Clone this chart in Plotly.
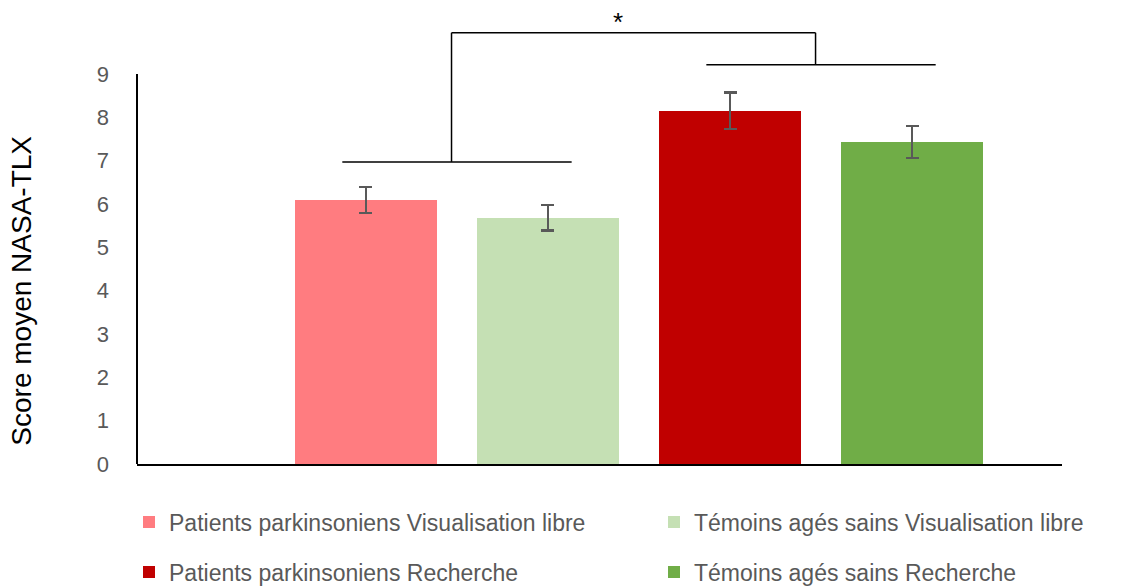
import plotly.graph_objects as go

categories = ["Patients parkinsoniens Visualisation libre",
              "Témoins agés sains Visualisation libre",
              "Patients parkinsoniens Recherche",
              "Témoins agés sains Recherche"]
means = [6.09, 5.68, 8.15, 7.43]
errors = [0.30, 0.29, 0.42, 0.37]
colors = ["#FF7C80", "#C5E0B4", "#C00000", "#70AD47"]
y_ticks = [0, 1, 2, 3, 4, 5, 6, 7, 8, 9]

# significance bracket levels
group_line_y = [6.97, 9.21]
top_line_y = 9.95
star_label = "*"

FONT = "Liberation Sans, Arial, sans-serif"

legend_names = ["legend", "legend2", "legend3", "legend4"]
# legend anchor positions (container pixels)
legend_px = [(129, 522), (654, 522), (129, 572), (654, 572)]

fig = go.Figure()
for i, (name, m, e, c) in enumerate(zip(categories, means, errors, colors)):
    fig.add_trace(go.Bar(
        x=[i], y=[m], name=name, marker=dict(color=c, line=dict(width=0)),
        width=0.78,
        error_y=dict(type="data", array=[e], visible=True, color="#595959",
                     thickness=2.5, width=6.5),
        legend=legend_names[i],
        showlegend=True,
    ))

shapes = []
# y axis line (only up to 9)
shapes.append(dict(type="line", xref="paper", yref="y", x0=0, x1=0, y0=0, y1=max(y_ticks),
                   line=dict(color="black", width=2)))
groups = [(0, 1), (2, 3)]
half = 0.63
vx = []
for (a, b), gy in zip(groups, group_line_y):
    cx = (a + b) / 2 - 0.03
    vx.append(cx)
    shapes.append(dict(type="line", xref="x", yref="y", x0=cx - half + 0.03, x1=cx + half + 0.03,
                       y0=gy, y1=gy, line=dict(color="black", width=1.5)))
    shapes.append(dict(type="line", xref="x", yref="y", x0=cx, x1=cx,
                       y0=gy, y1=top_line_y, line=dict(color="black", width=1.5)))
shapes.append(dict(type="line", xref="x", yref="y", x0=vx[0], x1=vx[1],
                   y0=top_line_y, y1=top_line_y, line=dict(color="black", width=1.5)))

legend_layout = {}
for ln, (px, py) in zip(legend_names, legend_px):
    legend_layout[ln] = dict(
        orientation="h", xref="container", yref="container", x=px / 1132, y=1 - py / 587,
        xanchor="left", yanchor="middle",
        font=dict(size=23, color="#595959", family=FONT), bgcolor="rgba(0,0,0,0)")

fig.update_layout(
    width=1132, height=587,
    margin=dict(l=137, r=70, t=5, b=123),
    plot_bgcolor="white", paper_bgcolor="white",
    font=dict(family=FONT, color="#595959", size=20),
    bargap=0,
    shapes=shapes,
    xaxis=dict(range=[-1.258, 3.824], showticklabels=False, ticks="", showgrid=False,
               zeroline=False, showline=True, linecolor="black", linewidth=2, fixedrange=True),
    yaxis=dict(range=[0, 10.59], tickvals=y_ticks, showgrid=False, zeroline=False,
               showline=False, ticks="", ticklabelstandoff=27,
               tickfont=dict(size=22, color="#595959", family=FONT)),
    annotations=[
        dict(text="Score moyen NASA-TLX", xref="paper", yref="y", x=(22 - 137) / 925, y=4.0,
             textangle=-90, showarrow=False, xanchor="center", yanchor="middle",
             font=dict(size=28, color="black", family=FONT)),
        dict(text=star_label, xref="x", yref="y", x=1.385, y=top_line_y, yanchor="bottom",
             yshift=-6, showarrow=False, font=dict(size=26, color="black", family=FONT)),
    ],
    **legend_layout,
)

fig.write_html("out.html", config={"displayModeBar": False},
               post_script="document.body.style.margin='0';")
